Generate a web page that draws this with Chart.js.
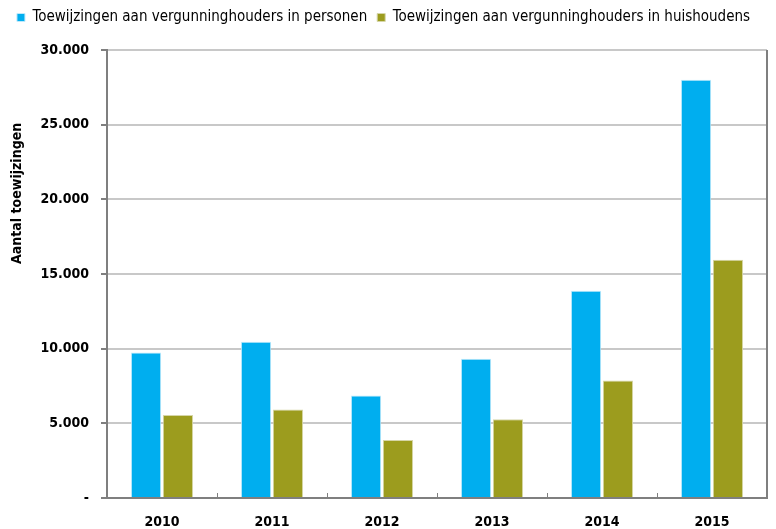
<!DOCTYPE html>
<html>
<head>
<meta charset="utf-8">
<script src="https://cdn.jsdelivr.net/npm/chart.js@4/dist/chart.umd.min.js"></script>
<style>
html,body{margin:0;padding:0;background:#fff}
#wrap{width:776px;height:529px}
</style>
</head>
<body>
<div id="wrap"><canvas id="c"></canvas></div>
<script>
// jaren en toewijzingen
const jaren = ['2010','2011','2012','2013','2014','2015']
const personen = [9750, 10470, 6860, 9330, 13880, 28000]
const huishoudens = [5550, 5930, 3880, 5280, 7870, 15950]
const yTicks = [0, 5000, 10000, 15000, 20000, 25000, 30000]

const fontFam = "'DejaVu Sans Condensed','Roboto',sans-serif"

function fmt(v){
  if(v===0) return '-'
  return v.toLocaleString('nl-NL')
}

// extra ruimte onder de legenda
const legendSpace = {
  id:'legendSpace',
  beforeInit(chart){
    const fit = chart.legend.fit
    chart.legend.fit = function(){
      fit.bind(chart.legend)()
      this.height += 15
    }
  }
}

// kader rechts, streepjes tussen de jaren en de as-titel
const extras = {
  id:'extras',
  afterDraw(chart){
    const ctx = chart.ctx
    const a = chart.chartArea
    const x = chart.scales.x
    ctx.save()
    ctx.strokeStyle = '#7f7f7f'
    ctx.lineWidth = 2
    ctx.beginPath()
    ctx.moveTo(a.right, a.top)
    ctx.lineTo(a.right, a.bottom)
    ctx.stroke()
    ctx.lineWidth = 1
    ctx.beginPath()
    for(let i=0;i<jaren.length-1;i++){
      const px = Math.round((x.getPixelForValue(i)+x.getPixelForValue(i+1))/2)+0.5
      ctx.moveTo(px, a.bottom)
      ctx.lineTo(px, a.bottom-5)
    }
    ctx.stroke()
    ctx.fillStyle = '#000'
    ctx.font = "bold 14px " + fontFam
    ctx.textAlign = 'center'
    ctx.textBaseline = 'middle'
    ctx.translate(17, a.top + (a.bottom-a.top)*0.32)
    ctx.rotate(-Math.PI/2)
    ctx.fillText('Aantal toewijzingen', 0, 0)
    ctx.restore()
  }
}

new Chart(document.getElementById('c'),{
type:'bar',
data:{
labels:jaren,
datasets:[{
label:'Toewijzingen aan vergunninghouders in personen',
data:personen,
backgroundColor:'#00aeef',
borderColor:'#bfe9fb',
borderWidth:1,
categoryPercentage:0.58,
barPercentage:0.95
},{
label:'Toewijzingen aan vergunninghouders in huishoudens',
data:huishoudens,
backgroundColor:'#9c9c1e',
borderColor:'#d6d6a8',
borderWidth:1,
categoryPercentage:0.58,
barPercentage:0.95
}]
},
options:{
responsive:true,
maintainAspectRatio:false,
animation:false,
layout:{padding:{left:0,right:9,top:0,bottom:0}},
plugins:{
legend:{
position:'top',
labels:{
boxWidth:8,
boxHeight:8,
padding:10,
color:'#000',
font:{family:fontFam,size:15}
}
},
tooltip:{enabled:false}
},
scales:{
x:{
grid:{display:false},
border:{color:'#7f7f7f',width:2},
ticks:{color:'#000',padding:8,font:{family:fontFam,size:14,weight:'bold'}},
afterFit(s){ s.height = 31 }
},
y:{
min:0,
max:30000,
afterBuildTicks(s){ s.ticks = yTicks.map(v=>({value:v})) },
grid:{color:'#c8c8c8',lineWidth:2,tickLength:6,tickColor:'#7f7f7f'},
border:{color:'#7f7f7f',width:2},
ticks:{color:'#000',padding:12,font:{family:fontFam,size:14,weight:'bold'},callback:v=>fmt(v)},
afterFit(s){ s.width = 107 }
}
}
},
plugins:[legendSpace, extras]
})
</script>
</body>
</html>
